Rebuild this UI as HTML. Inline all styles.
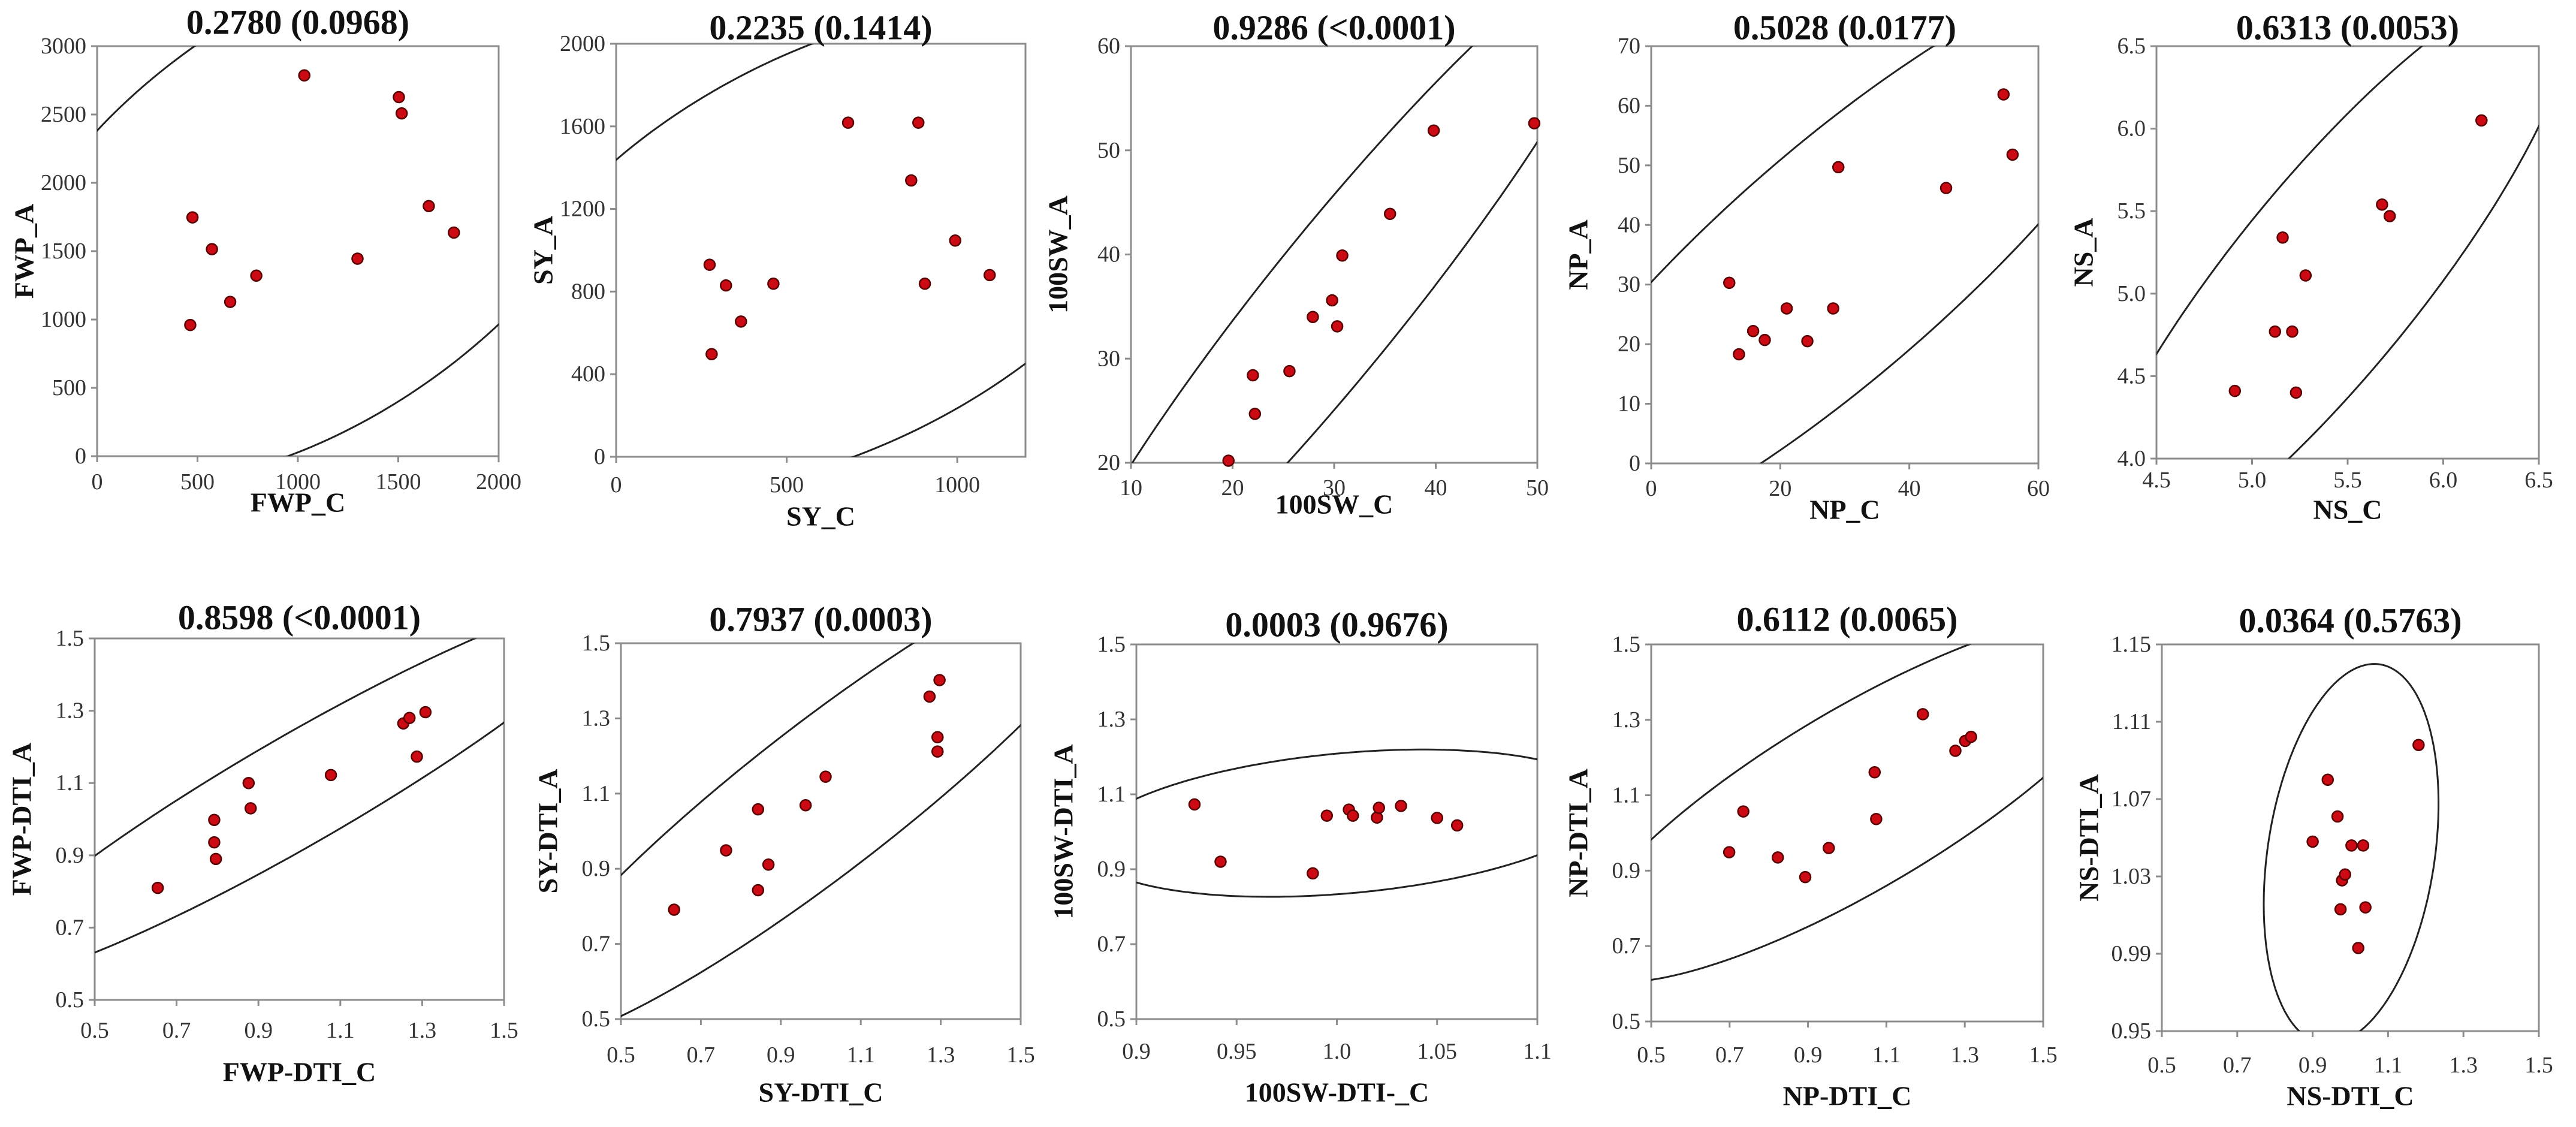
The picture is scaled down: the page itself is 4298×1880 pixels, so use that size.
<!DOCTYPE html>
<html><head><meta charset="utf-8"><style>
html,body{margin:0;padding:0;background:#fff;}
svg{display:block;font-family:"Liberation Serif",serif;}
</style></head>
<body>
<svg id="chart" width="4298" height="1880" xmlns="http://www.w3.org/2000/svg"></svg>
<script>
// ---- data ----
const titles = ["0.2780 (0.0968)","0.2235 (0.1414)","0.9286 (<0.0001)","0.5028 (0.0177)","0.6313 (0.0053)",
                "0.8598 (<0.0001)","0.7937 (0.0003)","0.0003 (0.9676)","0.6112 (0.0065)","0.0364 (0.5763)"];
const xTitles = ["FWP_C","SY_C","100SW_C","NP_C","NS_C","FWP-DTI_C","SY-DTI_C","100SW-DTI-_C","NP-DTI_C","NS-DTI_C"];
const yTitles = ["FWP_A","SY_A","100SW_A","NP_A","NS_A","FWP-DTI_A","SY-DTI_A","100SW-DTI_A","NP-DTI_A","NS-DTI_A"];

const p1x = [475,572,663,793,464,1032,1297,1503,1517,1652,1777];
const p1y = [1747,1515,1129,1321,960,2786,1445,2627,2508,1830,1636];
const p2x = [680,886,865,994,274,322,461,905,1095,366,280];
const p2y = [1618,1618,1338,1047,930,830,838,838,880,655,497];
const p3x = [19.6,22.0,22.2,25.6,27.9,29.8,30.3,30.8,35.5,39.8,49.7];
const p3y = [20.2,28.4,24.7,28.8,34.0,35.6,33.1,39.9,43.9,51.9,52.6];
const p4x = [12.1,13.6,15.8,17.6,21.0,24.2,28.2,29.0,45.7,54.6,56.0];
const p4y = [30.3,18.3,22.2,20.7,26.0,20.5,26.0,49.7,46.2,61.9,51.8];
const p5x = [4.91,5.12,5.16,5.21,5.23,5.28,5.68,5.72,6.20];
const p5y = [4.41,4.77,5.34,4.77,4.40,5.11,5.54,5.47,6.05];
const p6x = [0.654,0.792,0.792,0.796,0.876,0.881,1.077,1.254,1.269,1.308,1.287];
const p6y = [0.810,0.998,0.936,0.890,1.100,1.030,1.122,1.265,1.280,1.296,1.173];
const p7x = [0.633,0.763,0.843,0.843,0.869,0.962,1.012,1.272,1.292,1.292,1.297];
const p7y = [0.791,0.949,1.058,0.843,0.911,1.069,1.145,1.358,1.212,1.250,1.402];
const p8x = [0.929,0.942,0.988,0.995,1.006,1.008,1.020,1.021,1.032,1.050,1.060];
const p8y = [1.073,0.920,0.889,1.043,1.059,1.043,1.038,1.064,1.069,1.037,1.017];
const p9x = [0.699,0.735,0.823,0.893,0.953,1.070,1.074,1.193,1.276,1.301,1.316];
const p9y = [0.949,1.057,0.935,0.883,0.960,1.161,1.037,1.315,1.218,1.244,1.255];
const p10x = [0.940,0.900,0.966,1.003,1.034,0.978,0.986,0.974,1.040,1.021,1.181];
const p10y = [1.080,1.048,1.061,1.046,1.046,1.028,1.031,1.013,1.014,0.993,1.098];

const dtiTicks = ["0.5","0.7","0.9","1.1","1.3","1.5"];
const xTickLabels = [["0","500","1000","1500","2000"],["0","500","1000"],["10","20","30","40","50"],["0","20","40","60"],
  ["4.5","5.0","5.5","6.0","6.5"],dtiTicks,dtiTicks,["0.9","0.95","1.0","1.05","1.1"],dtiTicks,dtiTicks];
const yTickLabels = [["0","500","1000","1500","2000","2500","3000"],["0","400","800","1200","1600","2000"],
  ["20","30","40","50","60"],["0","10","20","30","40","50","60","70"],["4.0","4.5","5.0","5.5","6.0","6.5"],
  dtiTicks,dtiTicks,dtiTicks,dtiTicks,["0.95","0.99","1.03","1.07","1.11","1.15"]];
const xDomains = [[0,2000],[0,1200],[10,50],[0,60],[4.5,6.5],[0.5,1.5],[0.5,1.5],[0.9,1.1],[0.5,1.5],[0.5,1.5]];
const yDomains = [[0,3000],[0,2000],[20,60],[0,70],[4.0,6.5],[0.5,1.5],[0.5,1.5],[0.5,1.5],[0.5,1.5],[0.95,1.15]];
const xsAll = [p1x,p2x,p3x,p4x,p5x,p6x,p7x,p8x,p9x,p10x];
const ysAll = [p1y,p2y,p3y,p4y,p5y,p6y,p7y,p8y,p9y,p10y];

// ---- layout (pixels) ----
const boxes = [[162,832,77,761],[1028,1711,73,762],[1887,2565,77,772],[2755,3401,77,773],[3598,4236,77,765],
  [158,841,1065,1668],[1036,1703,1073,1700],[1896,2565,1075,1700],[2755,3409,1075,1704],[3607,4236,1075,1720]];
const titleY = [37,46,46,46,46,1030,1033,1042,1033,1035];
const xTitleY = [838,861,841,850,850,1788,1822,1822,1828,1828];
const xTickOff = [43,47,42,42,36,51,60,54,56,57];

const NS = "http://www.w3.org/2000/svg";
const svg = document.getElementById("chart");
function mk(tag, attrs, parent){const e=document.createElementNS(NS,tag);for(const k in attrs)e.setAttribute(k,attrs[k]);(parent||svg).appendChild(e);return e;}

for (let i=0;i<10;i++){
  const [L,R,T,B] = boxes[i];
  const [x0,x1] = xDomains[i], [y0,y1] = yDomains[i];
  const sx = v => L + (v-x0)/(x1-x0)*(R-L);
  const sy = v => B - (v-y0)/(y1-y0)*(B-T);
  const g = mk("g",{});
  
  

  const cp = mk("clipPath",{id:"clip"+i},g);
  mk("rect",{x:L,y:T,width:R-L,height:B-T},cp);

  const frame = mk("rect",{x:L,y:T,width:R-L,height:B-T,fill:"none",stroke:"#8c8c8c","stroke-width":3},g);
  
  

  const t = mk("text",{x:(L+R)/2,y:titleY[i],"text-anchor":"middle","dominant-baseline":"central","font-size":58,"font-weight":"bold",fill:"#111"},g);
  t.textContent = titles[i];
  
  

  const xt = mk("text",{x:(L+R)/2,y:xTitleY[i],"text-anchor":"middle","dominant-baseline":"central","font-size":46,"font-weight":"bold",fill:"#111"},g);
  xt.textContent = xTitles[i];
  
  

  const yx = L-122, yy=(T+B)/2;
  const yt = mk("text",{x:yx,y:yy,"text-anchor":"middle","dominant-baseline":"central","font-size":46,"font-weight":"bold",fill:"#111",transform:`rotate(-90 ${yx} ${yy})`},g);
  yt.textContent = yTitles[i];
  
  

  xTickLabels[i].forEach(lab=>{
    const px = sx(parseFloat(lab));
    const tk = mk("line",{x1:px,x2:px,y1:B,y2:B+10,stroke:"#8c8c8c","stroke-width":3},g);
    
    
    const tl = mk("text",{x:px,y:B+xTickOff[i],"text-anchor":"middle","dominant-baseline":"central","font-size":38,fill:"#333"},g);
    tl.textContent = lab;
    
    
  });
  yTickLabels[i].forEach(lab=>{
    const py = sy(parseFloat(lab));
    const tk = mk("line",{x1:L-10,x2:L,y1:py,y2:py,stroke:"#8c8c8c","stroke-width":3},g);
    
    
    const tl = mk("text",{x:L-18,y:py,"text-anchor":"end","dominant-baseline":"central","font-size":38,fill:"#333"},g);
    tl.textContent = lab;
    
    
  });

  // prediction ellipse computed from the data
  const xs = xsAll[i], ys = ysAll[i], n = xs.length;
  const mx = xs.reduce((a,b)=>a+b,0)/n, my = ys.reduce((a,b)=>a+b,0)/n;
  let sxx=0,syy=0,sxy=0;
  for(let j=0;j<n;j++){sxx+=(xs[j]-mx)**2;syy+=(ys[j]-my)**2;sxy+=(xs[j]-mx)*(ys[j]-my);}
  sxx/=(n-1);syy/=(n-1);sxy/=(n-1);
  const ne = Math.max(n,11);
  const k = Math.sqrt(2*(ne-1)*(ne+1)/(ne*(ne-2))*4.26);
  const a = Math.sqrt(sxx), b = sxy/a, c = Math.sqrt(Math.max(syy-b*b,1e-12));
  let d = "";
  for(let s=0;s<=240;s++){
    const th = s/240*2*Math.PI;
    const ex = mx + k*a*Math.cos(th), ey = my + k*(b*Math.cos(th)+c*Math.sin(th));
    d += (s?"L":"M")+sx(ex).toFixed(1)+","+sy(ey).toFixed(1);
  }
  const el = mk("path",{d:d+"Z",fill:"none",stroke:"#222","stroke-width":3,"clip-path":`url(#clip${i})`},g);
  
  

  for(let j=0;j<n;j++){
    const pt = mk("circle",{cx:sx(xs[j]),cy:sy(ys[j]),r:9,fill:"#cc0a14",stroke:"#5a0000","stroke-width":2.5},g);
    
    
  }
}
</script>
</body></html>
